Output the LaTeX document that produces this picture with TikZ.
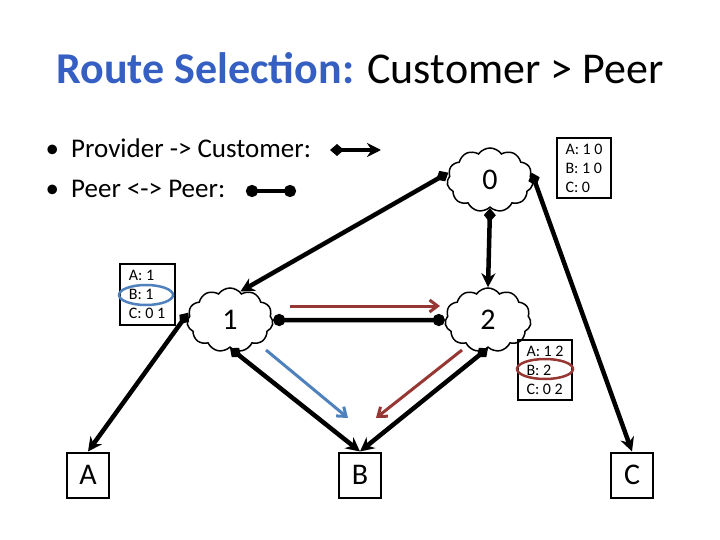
\documentclass[tikz,border=0pt]{standalone}
\usepackage{fontspec}
\setmainfont{Carlito}
\usetikzlibrary{shapes.symbols,arrows.meta}
\definecolor{tblue}{RGB}{54,95,195}
\definecolor{sblue}{RGB}{79,129,189}
\definecolor{sred}{RGB}{150,55,52}
\begin{document}
\begin{tikzpicture}[x=1pt,y=-1pt,
  cl/.style={cloud,cloud puffs=11,cloud puff arc=110,aspect=1.3,draw,line width=1.5pt,minimum width=86pt,minimum height=64pt,inner sep=0pt,font=\fontsize{30}{32}\selectfont},
  bx/.style={draw,line width=2pt,minimum width=42pt,minimum height=45pt,inner sep=0pt,font=\fontsize{30}{32}\selectfont},
  tb/.style={draw,line width=2pt,align=left,inner sep=3pt,font=\fontsize{16}{19}\selectfont},
  pc/.style={line width=4.5pt,{Diamond[length=14pt,width=12pt]}-{Stealth[length=14pt,width=14pt]}},
  pp/.style={line width=4.5pt,{Circle[length=12pt]}-{Circle[length=12pt]}},
  fl/.style={line width=3pt,-{Straight Barb[length=8pt,width=12pt]}}]
\useasboundingbox (0,0) rectangle (720,540);
\node (title) at (360,68) {\fontsize{44}{48}\selectfont\textcolor{tblue}{\textbf{Route Selection:}} Customer > Peer};
\node[anchor=west,font=\fontsize{27}{30}\selectfont] (l1) at (42,148) {•\ \ Provider -> Customer:};
\node[anchor=west,font=\fontsize{27}{30}\selectfont] (l2) at (42,189) {•\ \ Peer <-> Peer:};
\coordinate (la) at (330,150); \coordinate (lb) at (381,150);
\coordinate (lc) at (246,191); \coordinate (ld) at (296,191);
\draw[pc] (la) -- (lb);
\draw[pp] (lc) -- (ld);
\node[cl] (n0) at (490,180) {0};
\node[cl] (n1) at (230,320) {1};
\node[cl] (n2) at (488,320) {2};
\node[bx] (A) at (88,475) {A};
\node[bx] (B) at (360,475) {B};
\node[bx] (C) at (632,475) {C};
\node[tb,minimum width=54pt,minimum height=60pt] (t0) at (584,168) {A: 1 0\\B: 1 0\\C: 0};
\node[tb,minimum width=55pt,minimum height=61pt] (t1) at (147,294) {A: 1\\B: 1\\C: 0 1};
\node[tb,minimum width=54pt,minimum height=60pt] (t2) at (545,370) {A: 1 2\\B: 2\\C: 0 2};
\draw[sblue,line width=2.5pt] (146,295) ellipse (27pt and 10pt);
\draw[sred,line width=2.5pt] (545,369) ellipse (28pt and 10pt);
\draw[pc] (n0.170) -- (n1.70);
\draw[pc] (n0.south) -- (n2.north);
\draw[pc] (n0.10) -- (C.north);
\draw[pc] (n1.170) -- (A.north);
\draw[pc] (n1.270) -- (B.north);
\draw[pc] (n2.270) -- (B.north);
\draw[pp] (n1.east) -- (n2.west);
\coordinate (r1) at (290,306); \coordinate (r2) at (440,306);
\coordinate (b1) at (266,350); \coordinate (b2) at (348,418);
\coordinate (s1) at (462,350); \coordinate (s2) at (376,418);
\draw[fl,sred] (r1) -- (r2);
\draw[fl,sblue] (b1) -- (b2);
\draw[fl,sred] (s1) -- (s2);
\end{tikzpicture}
\end{document}
